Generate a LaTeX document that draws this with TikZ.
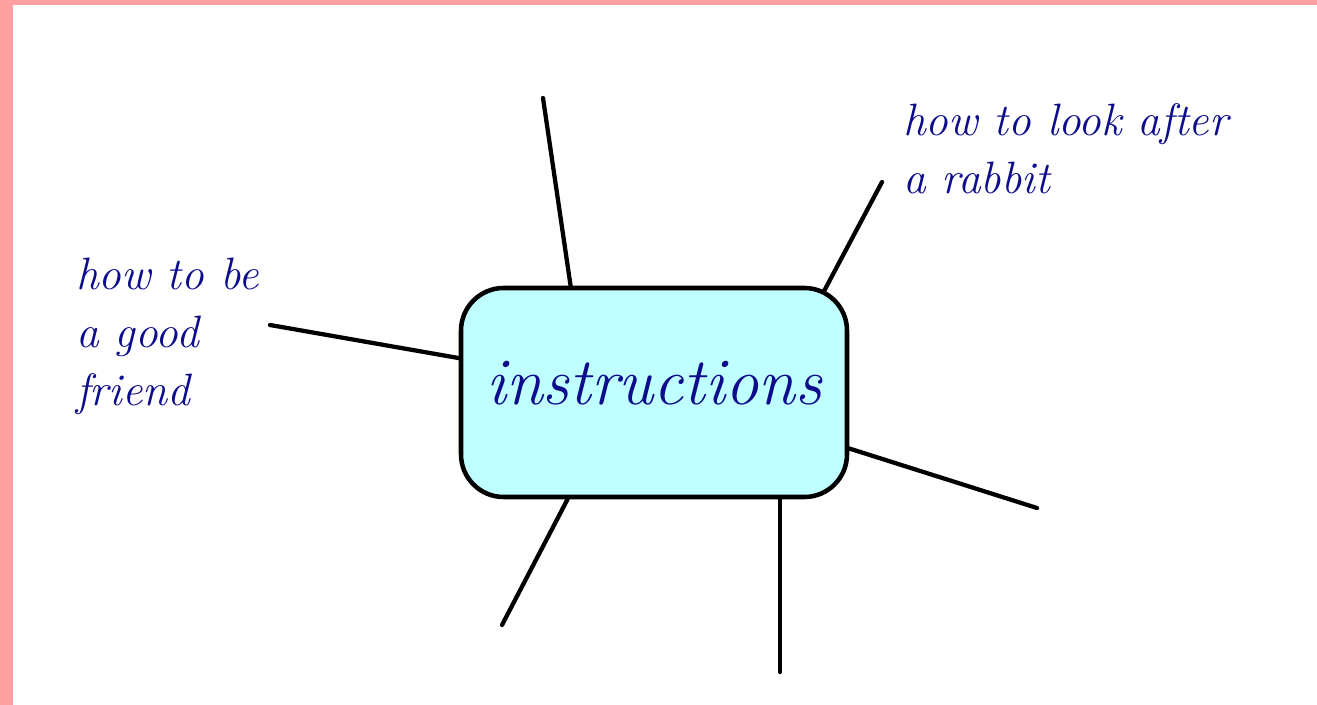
\documentclass[tikz,border=0pt]{standalone}
\usetikzlibrary{backgrounds}

\definecolor{pinkband}{RGB}{255,160,160}
\definecolor{hubcyan}{RGB}{192,255,255}
\definecolor{inkblue}{RGB}{12,12,140}

\tikzset{
  hub/.style={draw, line width=3.4pt, fill=hubcyan, rounded corners=32pt,
    minimum width=289.5pt, minimum height=156.75pt, inner sep=0pt,
    text=inkblue, text depth=15pt, font=\fontsize{50}{60}\selectfont\itshape},
  spoke/.style={line width=3.2pt, line cap=round},
  topic/.style={anchor=north west, align=left, inner sep=0pt, text=inkblue,
    font=\fontsize{34}{43.5}\selectfont\itshape}
}

\begin{document}
\begin{tikzpicture}[x=0.75pt, y=-0.75pt]

  \useasboundingbox (0,0) rectangle (1317,705);
  \fill[pinkband] (0,0) rectangle (13,705);
  \fill[pinkband] (0,0) rectangle (1317,5);

  \node[hub] (instr) at (654,392.5) {instructions};

  \node[topic] (rabbit) at (903,103) {how to look after\\a rabbit};
  \node[topic] (friend) at (76,258) {how to be\\a good\\friend};

  \coordinate (topend) at (543,98);
  \coordinate (rabbitend) at (882,182);
  \coordinate (friendend) at (270,325);
  \coordinate (rightend) at (1037,508);
  \coordinate (lowleftend) at (502,625);
  \coordinate (lowend) at (780,672);

  \begin{scope}[on background layer]
    \draw[spoke] (topend) -- (instr.128.5);
    \draw[spoke] (rabbitend) -- ([shift={(160,-82.5)}]instr.center);
    \draw[spoke] (friendend) -- (instr.170);
    \draw[spoke] (rightend) -- (instr.344.4);
    \draw[spoke] (lowleftend) -- (instr.231.1);
    \draw[spoke] (lowend) -- (lowend |- instr.south);
  \end{scope}

\end{tikzpicture}
\end{document}
